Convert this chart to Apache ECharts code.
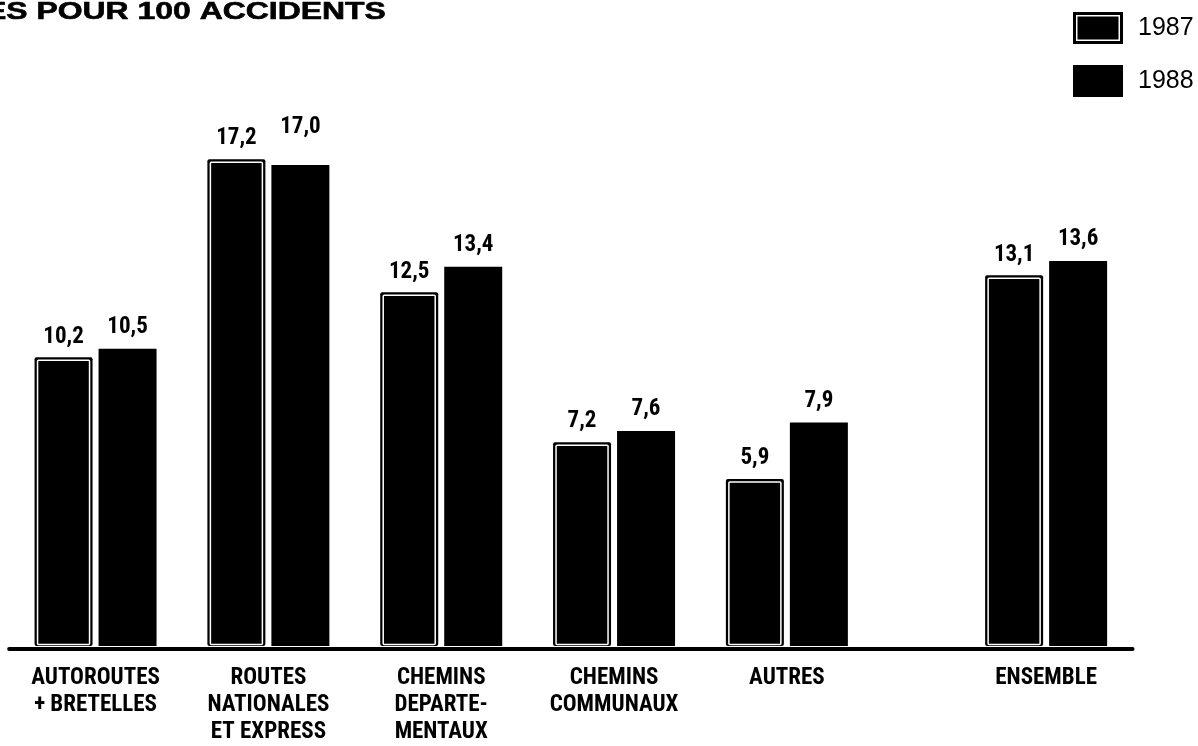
<!DOCTYPE html>
<html>
<head>
<meta charset="utf-8">
<script src="https://cdn.jsdelivr.net/npm/echarts@6/dist/echarts.min.js"></script>
<style>
html,body{margin:0;padding:0;background:#fff;}
#chart{width:1198px;height:746px;}
</style>
</head>
<body>
<div id="chart"></div>
<script>
// ---- data ----
const categories = ['AUTOROUTES\n+ BRETELLES', 'ROUTES\nNATIONALES\nET EXPRESS', 'CHEMINS\nDEPARTE-\nMENTAUX', 'CHEMINS\nCOMMUNAUX', 'AUTRES', 'ENSEMBLE'];
const slots = [0, 1, 2, 3, 4, 5.5];          // category slot along the axis (ENSEMBLE set apart)
const values1987 = [10.2, 17.2, 12.5, 7.2, 5.9, 13.1];
const values1988 = [10.5, 17.0, 13.4, 7.6, 7.9, 13.6];
const seriesNames = ['1987', '1988'];
const titleText = 'ES POUR 100 ACCIDENTS';

const narrow = "'Liberation Sans Narrow', 'Noto Sans Condensed', 'Roboto Condensed', 'Open Sans Condensed', 'DejaVu Sans Condensed', sans-serif";
const fmt = v => v.toFixed(1).replace('.', ',');
const pts = vals => vals.map((v, i) => [slots[i], v]);

const BAR_W = 58, GAP = 6;
const OFF_1987 = -(BAR_W + GAP) / 2;

const chart = echarts.init(document.getElementById('chart'), null, {renderer: 'canvas'});
const icon1987 = 'path://M0,0H50V32H0Z M3,3V29H47V3Z M4.5,4.5H45.5V27.5H4.5Z';

const valueLabel = (dist) => ({
  show: true, position: 'top', distance: dist,
  formatter: p => fmt(p.value[1]),
  fontFamily: narrow, fontWeight: 'bold', fontSize: 23, lineHeight: 23, color: '#000'
});

chart.setOption({
  animation: false,
  backgroundColor: '#fff',
  graphic: [{
    type: 'text', x: -15, y: 0, scaleX: 1.33, scaleY: 1, silent: true,
    style: {text: titleText, font: "bold 24px 'Liberation Sans', Arial, sans-serif", fill: '#000', stroke: '#000', lineWidth: 0.6, verticalAlign: 'top', align: 'left'}
  }],
  legend: {
    orient: 'vertical', left: 1073, top: 12, padding: 0,
    itemWidth: 50, itemHeight: 32, itemGap: 21,
    itemStyle: {borderWidth: 0, color: '#000'},
    textStyle: {fontFamily: "'Liberation Sans', Arial, sans-serif", fontSize: 25, color: '#000', padding: [0, 0, 0, 10]},
    data: [{name: seriesNames[0], icon: icon1987}, {name: seriesNames[1], icon: 'rect'}]
  },
  grid: {left: 9.14, right: 65.46, top: 80, bottom: 97, containLabel: false},
  xAxis: {
    type: 'value', min: -0.5, max: 6, interval: 0.5,
    position: 'bottom', offset: 3,
    axisLine: {show: true, onZero: false, lineStyle: {color: '#000', width: 4}},
    axisTick: {show: false}, splitLine: {show: false},
    axisLabel: {
      show: true, margin: 16, interval: 0,
      showMinLabel: true, showMaxLabel: true,
      formatter: v => { const i = slots.indexOf(v); return i >= 0 ? categories[i] : ''; },
      fontFamily: narrow, fontWeight: 'bold', fontSize: 23, lineHeight: 27, color: '#000', align: 'center'
    }
  },
  yAxis: {type: 'value', min: 0, max: 20, show: false},
  series: [
    {
      name: seriesNames[0], type: 'bar', barWidth: BAR_W, clip: false,
      data: pts(values1987),
      itemStyle: {color: '#000', borderRadius: 2},
      label: valueLabel(9)
    },
    {
      name: seriesNames[1], type: 'bar', barWidth: BAR_W, barGap: (GAP / BAR_W * 100) + '%', clip: false,
      data: values1988.map((v, i) => i === 1 ? {value: [slots[i], v], label: {distance: 26}} : [slots[i], v]),
      itemStyle: {color: '#000'},
      label: valueLabel(10)
    },
    {
      // inner white outline of the 1987 bars
      name: seriesNames[0], type: 'custom', silent: true, clip: false, z: 3,
      data: pts(values1987),
      renderItem: (params, api) => {
        const top = api.coord([api.value(0), api.value(1)]);
        const base = api.coord([api.value(0), 0]);
        const cx = top[0] + OFF_1987;
        const inset = 3;
        return {
          type: 'rect',
          shape: {x: cx - BAR_W / 2 + inset, y: top[1] + inset, width: BAR_W - 2 * inset, height: base[1] - top[1] - inset - 1.5, r: 1},
          style: {fill: null, stroke: '#fff', lineWidth: 1.5}
        };
      }
    }
  ]
});
</script>
</body>
</html>
